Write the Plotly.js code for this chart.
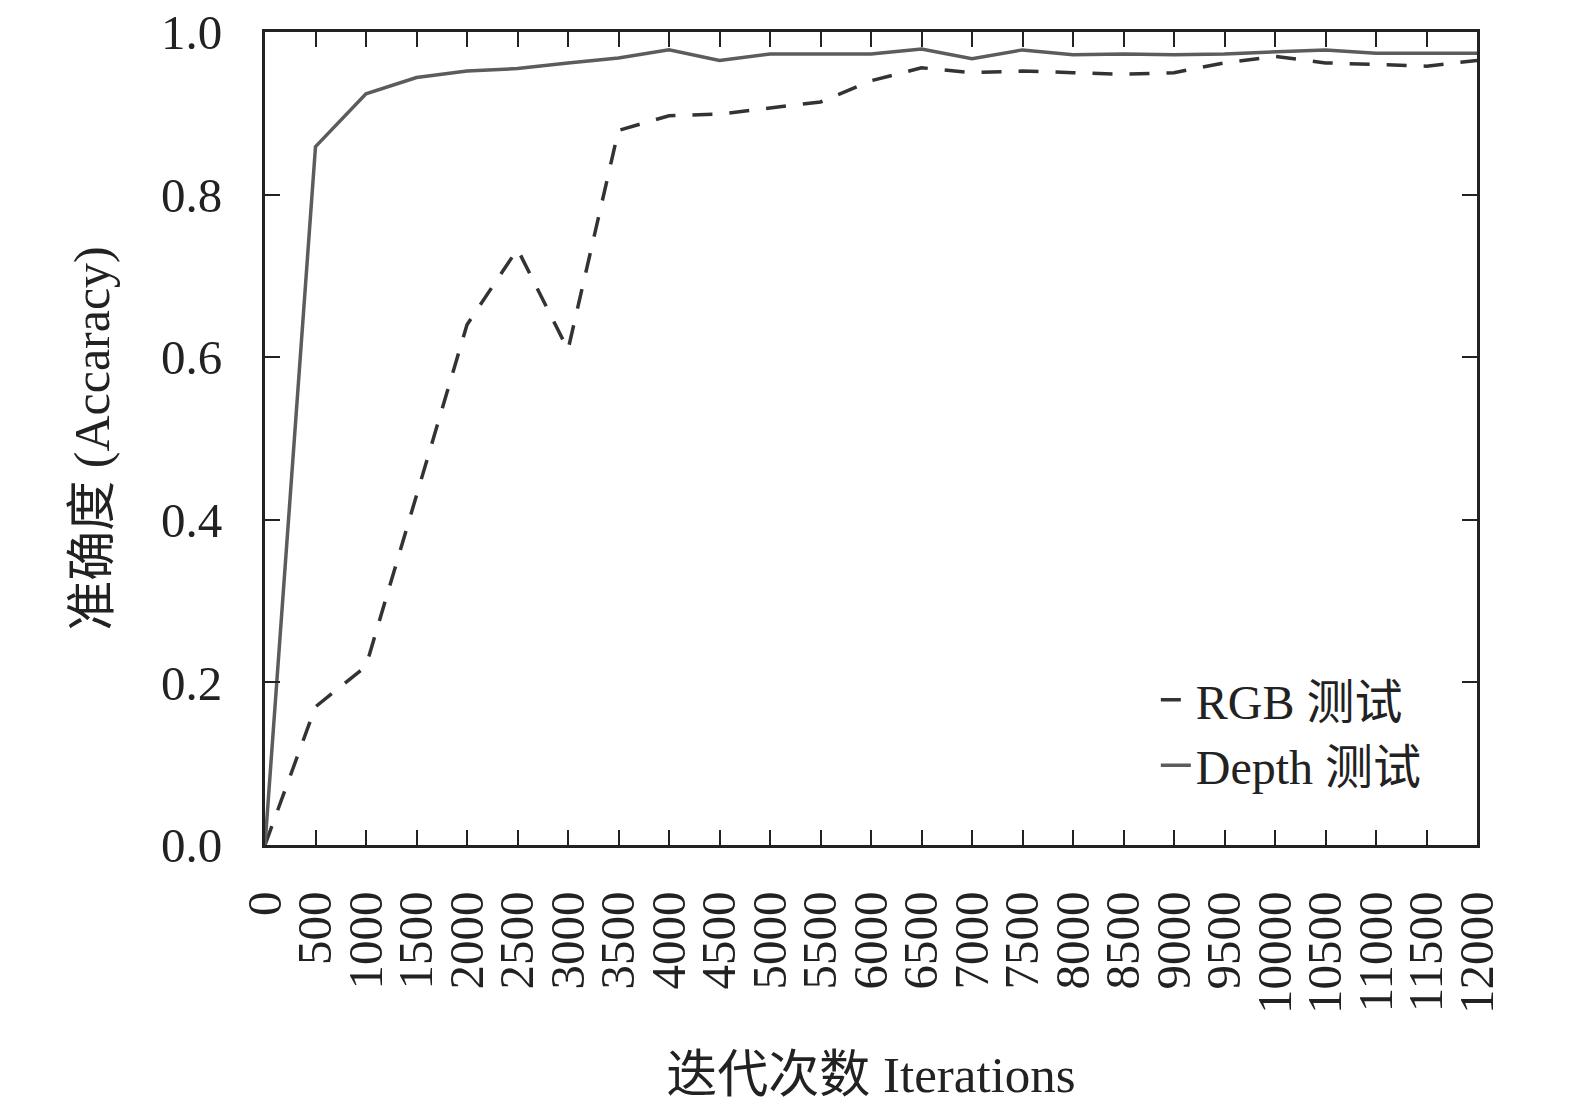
<!DOCTYPE html>
<html>
<head>
<meta charset="utf-8">
<script src="https://cdn.plot.ly/plotly-3.0.1.min.js"></script>
<style>html,body{margin:0;padding:0;background:#fff;}#chart{width:1575px;height:1112px;}</style>
</head>
<body>
<div id="chart"></div>
<script>
const iterations = [0,500,1000,1500,2000,2500,3000,3500,4000,4500,5000,5500,6000,6500,7000,7500,8000,8500,9000,9500,10000,10500,11000,11500,12000];
const rgbAcc = [0.0,0.17,0.22,0.43,0.64,0.733,0.609,0.879,0.897,0.899,0.906,0.914,0.94,0.956,0.950,0.952,0.950,0.948,0.950,0.962,0.970,0.962,0.960,0.958,0.965];
const depthAcc = [0.0,0.859,0.924,0.944,0.952,0.955,0.962,0.968,0.978,0.965,0.973,0.973,0.973,0.979,0.967,0.978,0.972,0.973,0.972,0.973,0.976,0.978,0.974,0.974,0.974];
const seriesNames = ['RGB 测试','Depth 测试'];
const xTitle = '迭代次数 Iterations';
const yTitle = '准确度 (Accaracy)';

const FONT = '"Liberation Serif", "Times New Roman", "Noto Sans CJK SC", serif';

const traces = [
  {x: iterations, y: rgbAcc, name: seriesNames[0], type: 'scatter', mode: 'lines',
   line: {color: '#333333', width: 3.5, dash: '20px,17px'}},
  {x: iterations, y: depthAcc, name: seriesNames[1], type: 'scatter', mode: 'lines',
   line: {color: '#5c5c5c', width: 3.5}}
];

const axisCommon = {
  showline: true, linecolor: '#222', linewidth: 3, mirror: 'allticks',
  ticks: 'inside', ticklen: 15, tickwidth: 2, tickcolor: '#222',
  showgrid: false, zeroline: false,
  tickfont: {family: FONT, size: 49, color: '#222'},
  automargin: false
};

const layout = {
  width: 1575, height: 1112,
  margin: {l: 265, r: 98, t: 32, b: 267},
  paper_bgcolor: '#fff', plot_bgcolor: '#fff',
  font: {family: FONT, color: '#222'},
  showlegend: true,
  legend: {x: 0.735, y: 0.225, xanchor: 'left', yanchor: 'top',
    bgcolor: 'rgba(0,0,0,0)', borderwidth: 0,
    font: {family: FONT, size: 48, color: '#222'}, tracegroupgap: 0},
  xaxis: Object.assign({}, axisCommon, {
    range: [0, 12000], tickmode: 'linear', tick0: 0, dtick: 500, tickangle: -90,
    tickformat: 'd', ticklabelstandoff: 24,
    title: {text: xTitle, font: {family: FONT, size: 51, color: '#222'}, standoff: 44}
  }),
  yaxis: Object.assign({}, axisCommon, {
    range: [0, 1], tickmode: 'linear', tick0: 0, dtick: 0.2, tickformat: '.1f',
    ticklabelstandoff: 30,
    title: {text: yTitle, font: {family: FONT, size: 50, color: '#222'}, standoff: 36}
  })
};

Plotly.newPlot('chart', traces, layout, {displayModeBar: false, staticPlot: true});
</script>
</body>
</html>
